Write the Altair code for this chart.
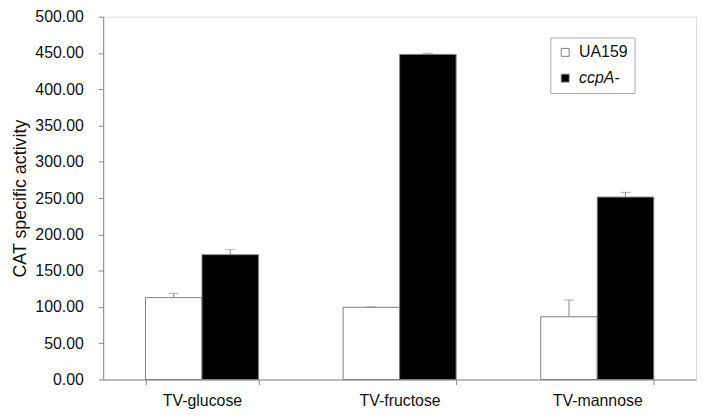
import altair as alt
import pandas as pd

categories = ["TV-glucose", "TV-fructose", "TV-mannose"]
strains = ["UA159", "ccpA-"]
ua159_vals = [112.8, 99.5, 86.5]
ua159_err = [6.0, 0.6, 23.0]
ccpa_vals = [172.0, 448.0, 251.4]
ccpa_err = [7.0, 1.5, 6.5]
y_ticks = [0, 50, 100, 150, 200, 250, 300, 350, 400, 450, 500]

rows = []
for i, c in enumerate(categories):
    rows.append({"cat": c, "strain": strains[0], "val": ua159_vals[i], "top": ua159_vals[i] + ua159_err[i]})
    rows.append({"cat": c, "strain": strains[1], "val": ccpa_vals[i], "top": ccpa_vals[i] + ccpa_err[i]})
df = pd.DataFrame(rows)

FONT = "Liberation Sans"

x_axis = alt.Axis(labelAngle=0, labelFontSize=16, labelColor="#111", labelPadding=8,
                  tickBand="extent", tickSize=5, tickColor="#888", domainColor="#888",
                  labelFont=FONT)
y_axis = alt.Axis(values=y_ticks, format=".2f", grid=False, labelFontSize=16,
                  labelOverlap=False, labelFlush=False,
                  labelColor="#111", labelPadding=15, tickSize=5, tickColor="#888",
                  domainColor="#888", titleFontSize=18, titleFontWeight="normal",
                  titleColor="#111", titlePadding=5, labelFont=FONT, titleFont=FONT)
x_scale = alt.Scale(paddingInner=0.428, paddingOuter=0.214)
xoff = alt.XOffset("strain:N", sort=strains, scale=alt.Scale(domain=strains, paddingInner=0, paddingOuter=0))
y_scale = alt.Scale(domain=[0, 500], nice=False)
Y_TITLE = "CAT specific activity"

bars = alt.Chart(df).mark_bar(stroke="#808080", strokeWidth=1).encode(
    x=alt.X("cat:N", sort=categories, title=None, scale=x_scale, axis=x_axis),
    xOffset=xoff,
    y=alt.Y("val:Q", scale=y_scale, title=Y_TITLE, axis=y_axis),
    color=alt.Color("strain:N", sort=strains,
                    scale=alt.Scale(domain=strains, range=["white", "black"]),
                    legend=alt.Legend(title=None, orient="none", legendX=451, legendY=21,
                                      padding=7, strokeColor="#aaa", fillColor="white",
                                      labelFontSize=16, labelColor="#111", labelFont=FONT,
                                      labelFontStyle=alt.ExprRef(
                                          expr="datum.label === 'ccpA-' ? 'italic' : 'normal'"),
                                      symbolType="square", symbolSize=64,
                                      symbolStrokeColor="#808080", symbolStrokeWidth=1,
                                      rowPadding=10, labelOffset=6)),
)

rules = alt.Chart(df).mark_rule(color="#888", strokeWidth=1).encode(
    x=alt.X("cat:N", sort=categories, title=None, scale=x_scale, axis=x_axis),
    xOffset=xoff,
    y=alt.Y("val:Q", scale=y_scale, title=Y_TITLE, axis=y_axis),
    y2="top:Q",
)

caps = alt.Chart(df).mark_tick(color="#888", thickness=1, size=10, orient="horizontal").encode(
    x=alt.X("cat:N", sort=categories, title=None, scale=x_scale, axis=x_axis),
    xOffset=xoff,
    y=alt.Y("top:Q", scale=y_scale, title=Y_TITLE, axis=y_axis),
)

chart = alt.layer(bars, rules, caps).properties(
    width=598, height=366,
    autosize=alt.AutoSizeParams(type="none"),
    padding={"left": 96, "top": 7, "right": 7, "bottom": 30},
).configure_view(stroke="#d0d0d0", strokeWidth=1).configure_axisY(
    labelOverlap=False
).configure(font=FONT, background="white")

chart.save("out.html", embed_options={"renderer": "svg", "actions": False})
